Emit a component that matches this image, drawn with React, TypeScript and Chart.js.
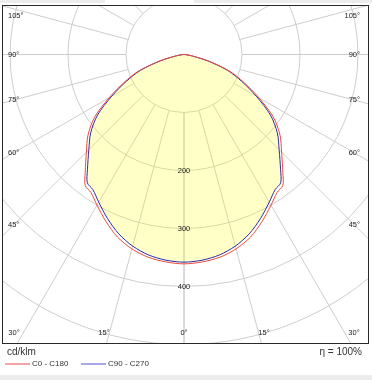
import { useEffect, useRef } from 'react';
import { Chart, registerables } from 'chart.js';

Chart.register(...registerables);

// ---- data (cd/klm) ----
const GAMMA = [0, 5, 10, 15, 20, 25, 30, 34, 37, 40, 45, 50, 55, 60, 65, 70, 75, 80, 85, 90];
const C0_C180 = [361, 359, 355, 347, 335, 318, 300, 287, 283, 265, 238, 216, 188, 149, 114, 83, 44, 15, 4, 0];
const C90_C270 = [358, 356, 351, 342, 329, 312, 294, 281, 277, 259, 232, 210, 182, 144, 110, 80, 42, 14, 4, 0];
const RINGS = [100, 200, 300, 400, 500, 600];
const RING_LABELS = [200, 300, 400];
const SPOKE_ANGLES = [0, 15, 30, 45, 60, 75, 90, 105, 120, 135, 150, 165, 180];
const ANGLE_LABELS = [0, 15, 30, 45, 60, 75, 90, 105];
const SERIES_LABELS = ['C0 - C180', 'C90 - C270'];
const UNIT_LABEL = 'cd/klm';
const EFFICIENCY_LABEL = 'η = 100%';

const RED = '#ec4a3a';
const BLUE = '#2a2aa8';
const RED_LEGEND = '#f4a4a4';
const BLUE_LEGEND = '#a8a8e6';
const FONT = '"Liberation Sans", Arial, sans-serif';

const rad = (d: number) => (d * Math.PI) / 180;

function toPoints(vals: number[]) {
  const left = GAMMA.map((g, i) => ({ x: -vals[i] * Math.sin(rad(g)), y: -vals[i] * Math.cos(rad(g)) })).reverse();
  const right = GAMMA.slice(1).map((g, i) => ({ x: vals[i + 1] * Math.sin(rad(g)), y: -vals[i + 1] * Math.cos(rad(g)) }));
  return [...left, ...right];
}

export default function App() {
  const ref = useRef<HTMLCanvasElement>(null);

  useEffect(() => {
    document.body.style.margin = '0';
    const canvas = ref.current!;
    const W = 372;
    const H = 380;
    const PAD = { left: 3, right: 4, top: 6, bottom: 37 };
    const area = { left: PAD.left, right: W - PAD.right, top: PAD.top, bottom: H - PAD.bottom };
    const CX = 184;
    const CY = 54.5;
    const PX = 0.58;
    const xMin = -(CX - area.left) / PX;
    const xMax = (area.right - CX) / PX;
    const yMax = (CY - area.top) / PX;
    const yMin = -(area.bottom - CY) / PX;

    const plugin = {
      id: 'ldc',
      beforeDraw(chart: any) {
        const ctx = chart.ctx;
        ctx.save();
        ctx.fillStyle = '#ececec';
        ctx.fillRect(0, 0, 105, 3);
        ctx.fillRect(194, 0, 178, 3);
        ctx.fillRect(0, 375, 372, 5);
        ctx.restore();
      },
      beforeDatasetsDraw(chart: any) {
        const { ctx, chartArea: a, scales } = chart;
        const ox = scales.x.getPixelForValue(0);
        const oy = scales.y.getPixelForValue(0);
        const k = scales.x.getPixelForValue(1) - ox;
        ctx.save();
        ctx.beginPath();
        ctx.rect(a.left, a.top, a.right - a.left, a.bottom - a.top);
        ctx.clip();
        ctx.strokeStyle = '#cdcdcd';
        ctx.lineWidth = 1;
        for (const R of RINGS) {
          ctx.beginPath();
          ctx.arc(ox, oy, R * k, 0, Math.PI * 2);
          ctx.stroke();
        }
        const r0 = RINGS[0] * k;
        const r1 = 3000 * k;
        for (const g of SPOKE_ANGLES) {
          for (const s of [-1, 1]) {
            const dx = s * Math.sin(rad(g));
            const dy = Math.cos(rad(g));
            ctx.beginPath();
            ctx.moveTo(ox + dx * r0, oy + dy * r0);
            ctx.lineTo(ox + dx * r1, oy + dy * r1);
            ctx.stroke();
          }
        }
        ctx.restore();
      },
      afterDatasetsDraw(chart: any) {
        const { ctx, chartArea: a, scales } = chart;
        const ox = scales.x.getPixelForValue(0);
        const oy = scales.y.getPixelForValue(0);
        const k = scales.x.getPixelForValue(1) - ox;
        ctx.save();
        ctx.fillStyle = '#222';
        ctx.font = `7.5px ${FONT}`;
        ctx.textBaseline = 'middle';
        ctx.textAlign = 'center';
        for (const R of RING_LABELS) {
          ctx.fillText(String(R), ox, oy + R * k + 0.5);
        }
        const sideDist = ox - (a.left + 11);
        const labelBottom = a.bottom - 10;
        const labelTop = a.top + 10;
        for (const g of ANGLE_LABELS) {
          for (const s of [-1, 1]) {
            if (g === 0 && s === 1) continue;
            const txt = `${g}°`;
            const sn = Math.sin(rad(g));
            const cs = Math.cos(rad(g));
            let yHit = Infinity;
            if (sn > 1e-6) yHit = oy + (sideDist * cs) / sn;
            if (yHit <= labelBottom) {
              const y = Math.max(labelTop, yHit);
              ctx.textAlign = s < 0 ? 'left' : 'right';
              ctx.fillText(txt, s < 0 ? a.left + 5 : a.right - 8, y);
            } else {
              let x = ox + s * (a.bottom + 10 - oy) * Math.tan(rad(g));
              x = Math.min(a.right - 14, Math.max(a.left + 11, x));
              ctx.textAlign = 'center';
              ctx.fillText(txt, x, labelBottom);
            }
          }
        }
        ctx.restore();
      },
      afterDraw(chart: any) {
        const { ctx, chartArea: a } = chart;
        ctx.save();
        ctx.strokeStyle = '#2a2a2a';
        ctx.lineWidth = 1;
        ctx.strokeRect(a.left - 0.5, a.top - 0.5, a.right - a.left + 1, a.bottom - a.top + 1);
        ctx.fillStyle = '#333';
        ctx.textBaseline = 'middle';
        ctx.font = `10px ${FONT}`;
        ctx.textAlign = 'left';
        ctx.fillText(UNIT_LABEL, 7, 352.5);
        ctx.textAlign = 'right';
        ctx.fillText(EFFICIENCY_LABEL, 362, 352.5);
        const legendColors = [RED_LEGEND, BLUE_LEGEND];
        const starts = [5, 81];
        ctx.font = `8px ${FONT}`;
        ctx.textAlign = 'left';
        SERIES_LABELS.forEach((lab, i) => {
          ctx.strokeStyle = legendColors[i];
          ctx.lineWidth = 2;
          ctx.beginPath();
          ctx.moveTo(starts[i], 364);
          ctx.lineTo(starts[i] + 25, 364);
          ctx.stroke();
          ctx.fillStyle = '#333';
          ctx.fillText(lab, starts[i] + 27, 364);
        });
        ctx.restore();
      },
    };

    const chart = new Chart(canvas, {
      type: 'scatter',
      data: {
        datasets: [
          {
            label: SERIES_LABELS[0],
            data: toPoints(C0_C180),
            showLine: true,
            borderColor: RED,
            borderWidth: 1,
            pointRadius: 0,
            tension: 0.3,
            fill: false,
          },
          {
            label: SERIES_LABELS[1],
            data: toPoints(C90_C270),
            showLine: true,
            borderColor: BLUE,
            backgroundColor: 'rgba(255,255,0,0.22)',
            borderWidth: 1,
            pointRadius: 0,
            tension: 0.3,
            fill: 'shape',
          },
        ],
      },
      options: {
        animation: false,
        responsive: false,
        maintainAspectRatio: false,
        events: [],
        layout: { padding: PAD },
        plugins: { legend: { display: false }, tooltip: { enabled: false } },
        scales: {
          x: { type: 'linear', min: xMin, max: xMax, display: false },
          y: { type: 'linear', min: yMin, max: yMax, display: false },
        },
      },
      plugins: [plugin],
    } as any);

    return () => chart.destroy();
  }, []);

  return (
    <div style={{ width: 372, height: 380 }}>
      <canvas ref={ref} width={372} height={380} style={{ display: 'block' }} />
    </div>
  );
}
